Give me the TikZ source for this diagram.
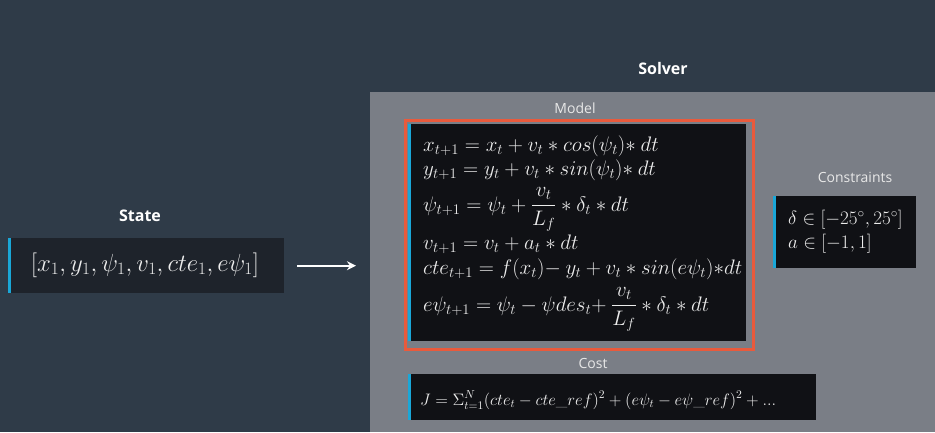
\RequirePackage{fix-cm}
\documentclass[tikz,border=0pt]{standalone}
\usepackage{fontspec}
\usepackage{amsmath}
\newfontfamily\labelfont{Open Sans}
\usetikzlibrary{arrows.meta}
\definecolor{bgcol}{HTML}{2F3B48}
\definecolor{panelcol}{HTML}{7A7E86}
\definecolor{boxcol}{HTML}{101115}
\definecolor{statecol}{HTML}{1E232B}
\definecolor{barcol}{HTML}{1AA7D8}
\definecolor{framecol}{HTML}{EA5A3C}
\definecolor{mathcol}{HTML}{ECECEC}
\definecolor{lblcol}{HTML}{E8E8E8}
\begin{document}
\begin{tikzpicture}[x=1pt,y=-1pt,
  title/.style={font=\labelfont\bfseries\fontsize{16}{18}\selectfont, text=white},
  sublabel/.style={font=\labelfont\fontsize{14}{16}\selectfont, text=lblcol},
  darkbox/.style={fill=boxcol, draw=none, anchor=north west, inner sep=0pt},
  bluebar/.style={fill=barcol, draw=none, anchor=north west, inner sep=0pt, minimum width=3pt},
  eq/.style={anchor=base west, inner sep=0pt, text=mathcol, font=\fontsize{21}{24}\selectfont},
  arrowline/.style={draw=white, line width=1.6pt, -{Stealth[length=9pt,width=9pt]}}
]
\useasboundingbox (0,0) rectangle (935,432);
\fill[bgcol] (0,0) rectangle (935,432);

% Solver panel
\node[fill=panelcol, anchor=north west, inner sep=0pt, minimum width=565pt, minimum height=340pt] (solver) at (370,92) {};
\node[title] (solvertitle) at (663,68) {Solver};

% Model
\node[sublabel] (modellbl) at (575,108) {Model};
\node[draw=framecol, line width=3pt, anchor=north west, inner sep=0pt, minimum width=348pt, minimum height=229pt] (modelframe) at (403.5,118.5) {};
\node[darkbox, minimum width=338pt, minimum height=217pt] (modelbox) at (408,124) {};
\node[bluebar, minimum height=217pt] (modelbar) at (408,124) {};

\node[eq] (eq1) at (423,151) {$x_{t+1} = x_t + v_t * cos(\psi_t){*}\> dt$};
\node[eq] (eq2) at (423,175) {$y_{t+1} = y_t + v_t * sin(\psi_t){*}\> dt$};
\node[eq] (eq3) at (423,211) {$\psi_{t+1} = \psi_t + \dfrac{v_t}{L_f} * \delta_t * dt$};
\node[eq] (eq4) at (423,249) {$v_{t+1} = v_t + a_t * dt$};
\node[eq] (eq5) at (423,274) {$cte_{t+1} = f(x_t){-}\> y_t + v_t * sin(e\psi_t){*}dt$};
\node[eq] (eq6) at (423,311) {$e\psi_{t+1} = \psi_t - \psi des_t{+}\> \dfrac{v_t}{L_f} * \delta_t * dt$};

% Constraints
\node[sublabel] (conslbl) at (855,177) {Constraints};
\node[darkbox, minimum width=143pt, minimum height=72pt] (consbox) at (773,196) {};
\node[bluebar, minimum height=72pt] (consbar) at (773,196) {};
\node[eq, font=\fontsize{19.1}{22}\selectfont] (cons1) at (788,224) {$\delta \in [-25^\circ, 25^\circ]$};
\node[eq, font=\fontsize{19.1}{22}\selectfont] (cons2) at (788,248) {$a \in [-1,1]$};

% Cost
\node[sublabel] (costlbl) at (593,363) {Cost};
\node[darkbox, minimum width=408pt, minimum height=46pt] (costbox) at (408,374) {};
\node[bluebar, minimum height=46pt] (costbar) at (408,374) {};
\node[eq, font=\fontsize{16.6}{20}\selectfont] (costeq) at (420,405) {$J = \Sigma_{t=1}^{N}(cte_t - cte\_ref)^2 + (e\psi_t - e\psi\_ref)^2 + ...$};

% State
\node[title] (statelbl) at (140,216) {State};
\node[fill=statecol, anchor=north west, inner sep=0pt, minimum width=276pt, minimum height=55pt] (statebox) at (8,238) {};
\node[bluebar, minimum height=55pt, minimum width=2.5pt] (statebar) at (8,238) {};
\node[text=mathcol, inner sep=0pt, font=\fontsize{24.8}{28}\selectfont] (stateeq) at (145,265) {$[x_1, y_1, \psi_1, v_1, cte_1, e\psi_1]$};

% Arrow
\coordinate (arrstart) at ([xshift=13pt]statebox.east);
\coordinate (arrend) at ([xshift=-14pt]solver.west |- statebox.east);
\draw[arrowline] (arrstart) -- (arrend);
\end{tikzpicture}
\end{document}
